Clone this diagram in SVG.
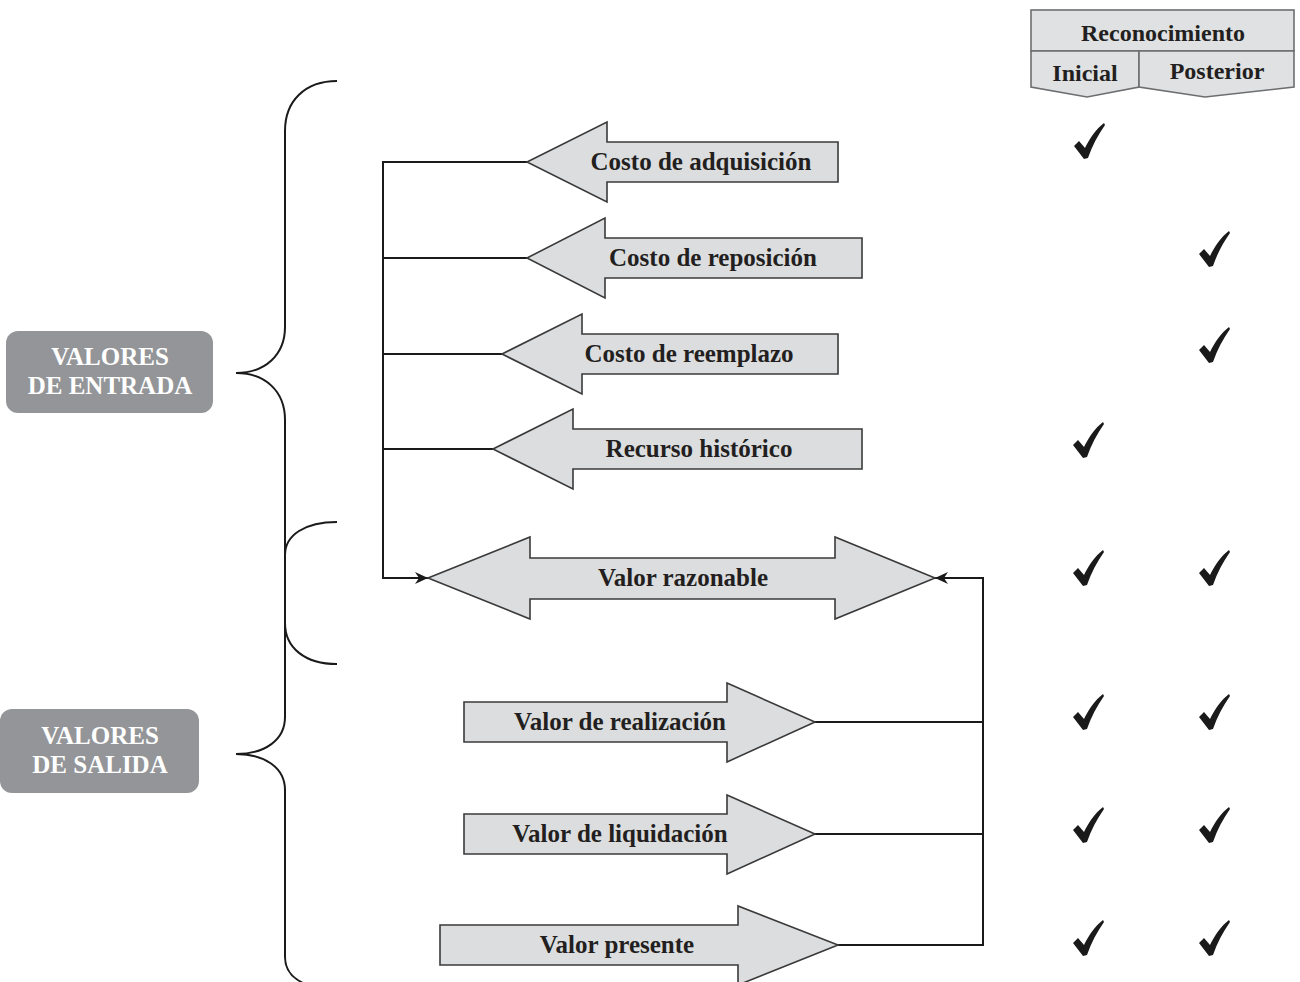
<svg xmlns="http://www.w3.org/2000/svg" width="1300" height="982" viewBox="0 0 1300 982">
<defs>
<style>
.arr{fill:#dcdddf;stroke:#3a3a3a;stroke-width:1.6;stroke-linejoin:miter}
.lbl{font-family:"Liberation Serif","Times New Roman",serif;font-weight:bold;font-size:25px;fill:#231f20;text-anchor:middle}
.hdr{font-family:"Liberation Serif","Times New Roman",serif;font-weight:bold;font-size:24px;fill:#231f20;text-anchor:middle}
.cat{font-family:"Liberation Serif","Times New Roman",serif;font-weight:bold;font-size:25px;fill:#ffffff;text-anchor:middle}
.catbox{fill:#939598}
.cell{fill:#e0e1e3;stroke:#6d6e70;stroke-width:1.6}
.con{fill:none;stroke:#1a1a1a;stroke-width:2}
.brace{fill:none;stroke:#1a1a1a;stroke-width:2}
.chk{fill:#1a1a1a}
</style>
<marker id="ah" markerUnits="userSpaceOnUse" markerWidth="14" markerHeight="12" refX="13" refY="6" orient="auto">
<path d="M0,0 L13,6 L0,12 L4,6 Z" fill="#1a1a1a"/>
</marker>
<path id="check" d="M-11,-12 L-6,-17 L0,-10 C5,-20 11,-29 19,-35 L20,-33 C13,-23 7,-12 3,0 L-1,1 Z"/>
</defs>

<g id="header">
<rect class="cell" x="1031" y="10" width="263" height="41"/>
<polygon class="cell" points="1031,51 1139,51 1139,87 1087,97 1031,87"/>
<polygon class="cell" points="1139,51 1294,51 1294,87 1205,97 1139,87"/>
<text class="hdr" x="1163" y="41">Reconocimiento</text>
<text class="hdr" x="1085" y="81">Inicial</text>
<text class="hdr" x="1217" y="79">Posterior</text>
</g>

<g id="braces">
<path class="brace" d="M337,81 C305,81 285,101 285,131 L285,327 C285,355 265,373 236,373 C265,373 285,391 285,420 L285,717 C285,740 265,754 236,754 C265,754 285,768 285,790 L285,957 C285,975 300,988 337,990"/>
<path class="brace" d="M337,522 C305,522 285,535 285,555 L285,623 C285,648 305,664 337,664"/>
</g>

<g id="valores-entrada">
<rect class="catbox" x="6" y="331" width="207" height="82" rx="12"/>
<text class="cat" x="110" y="365">VALORES</text>
<text class="cat" x="110" y="394">DE ENTRADA</text>
</g>
<g id="valores-salida">
<rect class="catbox" x="0" y="709" width="199" height="84" rx="12"/>
<text class="cat" x="100" y="744">VALORES</text>
<text class="cat" x="100" y="773">DE SALIDA</text>
</g>

<g id="connectors">
<path class="con" d="M527,162 L383,162 L383,578 L428,578" marker-end="url(#ah)"/>
<path class="con" d="M383,258 L527,258"/>
<path class="con" d="M383,354 L502,354"/>
<path class="con" d="M383,449 L493,449"/>
<path class="con" d="M815,722 L983,722"/>
<path class="con" d="M815,834 L983,834"/>
<path class="con" d="M838,945 L983,945 L983,578 L935,578" marker-end="url(#ah)"/>
</g>

<g id="costo-adquisicion">
<polygon class="arr" points="527,162 607,122 607,142 838,142 838,182 607,182 607,202"/>
<text class="lbl" x="701" y="170">Costo de adquisición</text>
</g>
<g id="costo-reposicion">
<polygon class="arr" points="527,258 605,218 605,238 862,238 862,278 605,278 605,298"/>
<text class="lbl" x="713" y="266">Costo de reposición</text>
</g>
<g id="costo-reemplazo">
<polygon class="arr" points="502,354 582,314 582,334 838,334 838,374 582,374 582,394"/>
<text class="lbl" x="689" y="362">Costo de reemplazo</text>
</g>
<g id="recurso-historico">
<polygon class="arr" points="493,449 573,409 573,429 862,429 862,469 573,469 573,489"/>
<text class="lbl" x="699" y="457">Recurso histórico</text>
</g>
<g id="valor-razonable">
<polygon class="arr" points="428,578 530,537 530,558 835,558 835,537 935,578 835,619 835,599 530,599 530,619"/>
<text class="lbl" x="683" y="586">Valor razonable</text>
</g>
<g id="valor-realizacion">
<polygon class="arr" points="464,702 727,702 727,683 815,722 727,762 727,742 464,742"/>
<text class="lbl" x="620" y="730">Valor de realización</text>
</g>
<g id="valor-liquidacion">
<polygon class="arr" points="464,814 727,814 727,795 815,834 727,874 727,854 464,854"/>
<text class="lbl" x="620" y="842">Valor de liquidación</text>
</g>
<g id="valor-presente">
<polygon class="arr" points="440,925 738,925 738,906 838,945 738,985 738,965 440,965"/>
<text class="lbl" x="617" y="953">Valor presente</text>
</g>

<g id="checks" class="chk">
<use href="#check" x="1085" y="158"/>
<use href="#check" x="1210" y="266"/>
<use href="#check" x="1210" y="362"/>
<use href="#check" x="1084" y="457"/>
<use href="#check" x="1084" y="585"/>
<use href="#check" x="1210" y="585"/>
<use href="#check" x="1084" y="729"/>
<use href="#check" x="1210" y="729"/>
<use href="#check" x="1084" y="842"/>
<use href="#check" x="1210" y="842"/>
<use href="#check" x="1084" y="955"/>
<use href="#check" x="1210" y="955"/>
</g>
</svg>
